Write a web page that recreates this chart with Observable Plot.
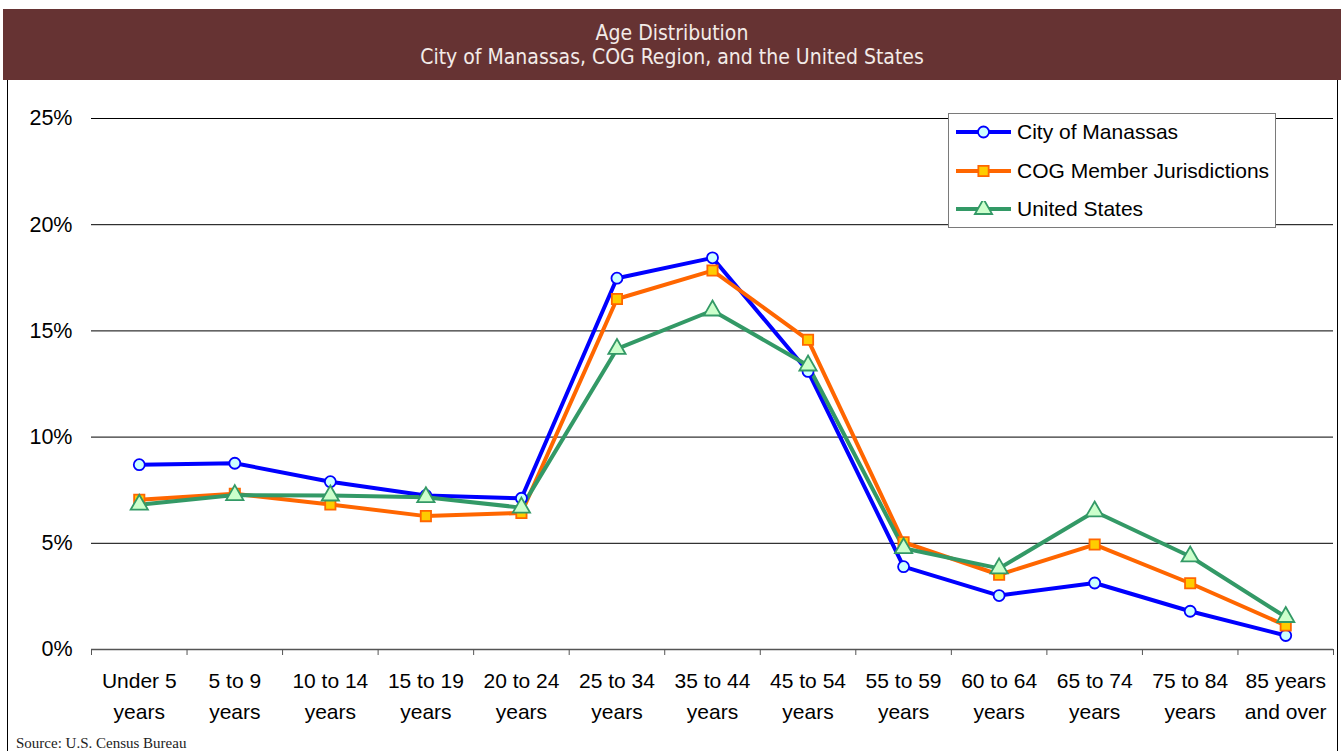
<!DOCTYPE html>
<html>
<head>
<meta charset="utf-8">
<script src="https://cdn.jsdelivr.net/npm/d3@7"></script>
<script src="https://cdn.jsdelivr.net/npm/@observablehq/plot@0.6"></script>
<style>
  html, body { margin: 0; padding: 0; background: #fff; }
  body { width: 1341px; height: 751px; position: relative; overflow: hidden; font-family: "Liberation Sans", Arial, sans-serif; }
  #title { position: absolute; left: 3px; top: 9px; width: 1338px; height: 71px; background: #663333; color: #f3ebe8;
           font-family: "Liberation Sans Narrow", "DejaVu Sans Condensed", "Open Sans", sans-serif; font-size: 21px;
           text-align: center; line-height: 24px; padding-top: 12px; box-sizing: border-box; }
  #frame { position: absolute; left: 7px; top: 80px; width: 1331px; height: 680px; border-left: 1px solid #000; border-right: 1px solid #000; box-sizing: border-box; }
  #chart { position: absolute; left: 0; top: 80px; }
  #legend { position: absolute; left: 948px; top: 113px; width: 328px; height: 115px; background: #fff; border: 1px solid #7a7a7a; box-sizing: border-box; }
  .item { position: absolute; left: 6px; height: 30px; display: flex; align-items: center; font-size: 21px; color: #000; white-space: nowrap; }
  .item svg { margin-right: 5px; }
  #source { position: absolute; left: 16px; top: 735px; font-family: "Liberation Serif", "DejaVu Serif", serif; font-size: 15px; color: #222; }
</style>
</head>
<body>
<div id="title">Age Distribution<br>City of Manassas, COG Region, and the United States</div>
<div id="frame"></div>
<div id="chart"></div>
<div id="legend"></div>
<div id="source">Source: U.S. Census Bureau</div>
<script>
const categories = ["Under 5\nyears", "5 to 9\nyears", "10 to 14\nyears", "15 to 19\nyears", "20 to 24\nyears",
  "25 to 34\nyears", "35 to 44\nyears", "45 to 54\nyears", "55 to 59\nyears", "60 to 64\nyears",
  "65 to 74\nyears", "75 to 84\nyears", "85 years\nand over"];
const manassas = [8.7, 8.77, 7.9, 7.25, 7.12, 17.48, 18.44, 13.09, 3.9, 2.54, 3.13, 1.8, 0.66];
const cog = [7.05, 7.33, 6.83, 6.28, 6.43, 16.5, 17.84, 14.58, 5.05, 3.52, 4.94, 3.12, 1.13];
const us = [6.82, 7.27, 7.25, 7.17, 6.68, 14.15, 15.96, 13.37, 4.77, 3.82, 6.5, 4.38, 1.53];
const yTicks = [0, 5, 10, 15, 20, 25];
const seriesNames = ["City of Manassas", "COG Member Jurisdictions", "United States"];

const styles = [
  {stroke: "#0000ff", fill: "#ccffff", symbol: "circle", r: 5.5},
  {stroke: "#ff6600", fill: "#ffcc00", symbol: "square", r: 5.8},
  {stroke: "#339966", fill: "#ccffcc", symbol: "triangle", r: 6.4}
];
const seriesValues = [manassas, cog, us];
const rows = [];
seriesValues.forEach((vals, s) => vals.forEach((v, i) => rows.push({s, i, v})));

const marks = [
  Plot.ruleY(yTicks.filter(d => d > 0), {stroke: "#000", strokeWidth: 1}),
  Plot.ruleY([0], {stroke: "#555", strokeWidth: 1.3}),
  Plot.axisX({ticks: d3.range(categories.length + 1).map(i => i - 0.5), tickSize: 6, tickFormat: () => "", stroke: "#555", label: null}),
  Plot.axisX({ticks: d3.range(categories.length), tickSize: 0, tickPadding: 17, tickFormat: i => categories[i],
    fontSize: 21, lineHeight: 1.45, fill: "#000", label: null}),
  Plot.axisY({ticks: yTicks, tickSize: 0, tickPadding: 19, tickFormat: d => d + "%", fontSize: 21.5, fill: "#000", label: null})
];
styles.forEach((st, s) => {
  const data = rows.filter(d => d.s === s);
  marks.push(Plot.line(data, {x: "i", y: "v", stroke: st.stroke, strokeWidth: 4, strokeLinejoin: "round"}));
});
styles.forEach((st, s) => {
  const data = rows.filter(d => d.s === s);
  marks.push(Plot.dot(data, {x: "i", y: "v", symbol: () => st.symbol, r: st.r, fill: st.fill, stroke: st.stroke, strokeWidth: 1.8}));
});

const chart = Plot.plot({
  width: 1341,
  height: 651,
  marginTop: 38,
  marginBottom: 82,
  marginLeft: 91,
  marginRight: 8,
  x: {type: "linear", domain: [-0.5, categories.length - 0.5], axis: null},
  y: {domain: [0, 25], axis: null},
  style: {fontFamily: "'Liberation Sans', Arial, sans-serif", background: "transparent", overflow: "visible"},
  marks
});
document.getElementById("chart").appendChild(chart);

// legend
const legend = document.getElementById("legend");
const symbolGen = {circle: d3.symbolCircle, square: d3.symbolSquare, triangle: d3.symbolTriangle};
seriesNames.forEach((name, s) => {
  const st = styles[s];
  const item = document.createElement("div");
  item.className = "item";
  item.style.top = (3 + s * 38.5) + "px";
  const svg = d3.create("svg").attr("width", 57).attr("height", 16);
  svg.append("line").attr("x1", 1).attr("x2", 56).attr("y1", 8).attr("y2", 8).attr("stroke", st.stroke).attr("stroke-width", 4);
  svg.append("path").attr("transform", "translate(28.5,8)")
    .attr("d", d3.symbol(symbolGen[st.symbol], Math.PI * st.r * st.r)())
    .attr("fill", st.fill).attr("stroke", st.stroke).attr("stroke-width", 1.8);
  item.appendChild(svg.node());
  const span = document.createElement("span");
  span.textContent = name;
  item.appendChild(span);
  legend.appendChild(item);
});
</script>
</body>
</html>
